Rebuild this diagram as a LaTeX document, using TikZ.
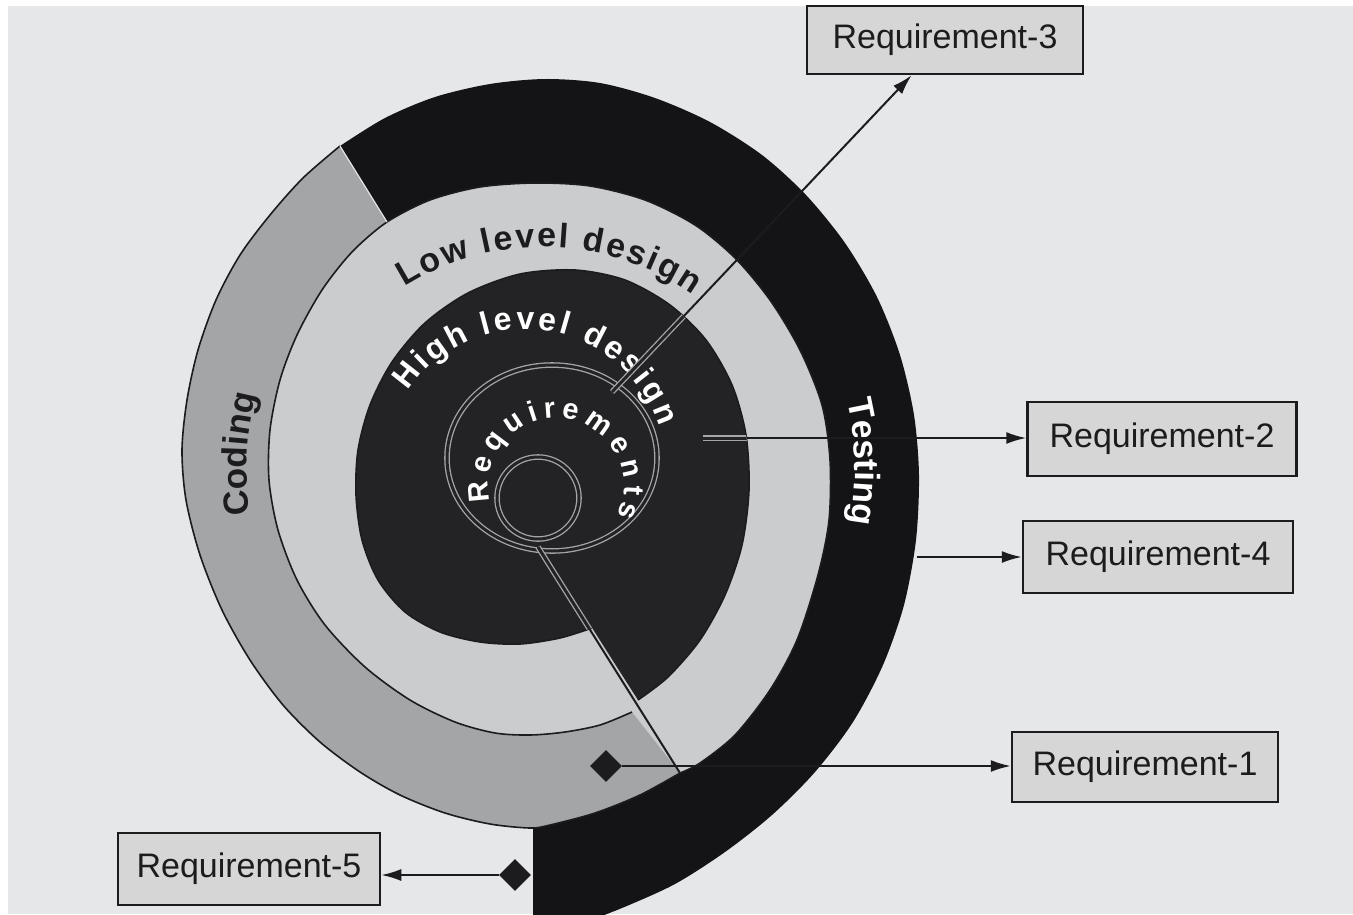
\documentclass[tikz,border=0pt]{standalone}
\usepackage{fontspec}
\setmainfont{Liberation Sans}
\usetikzlibrary{shapes.geometric,arrows.meta,decorations.text,calc}
\definecolor{bgc}{HTML}{E6E7E9}
\definecolor{lightc}{HTML}{CBCCCD}
\definecolor{grayc}{HTML}{A4A5A6}
\definecolor{darkc}{HTML}{232326}
\definecolor{blackc}{HTML}{141416}
\definecolor{boxc}{HTML}{D6D6D6}
\definecolor{inkc}{HTML}{1C1C1E}
\begin{document}
\begin{tikzpicture}[x=1pt,y=-1pt,
  edge/.style={draw=inkc,line width=1.6pt},
  road/.style={draw=gray!70,line width=1.3pt,double=darkc,double distance=3pt},
  conn/.style={draw=inkc,line width=2pt},
  arr/.style={conn,-{Latex[length=20pt,width=12pt]}},
  reqbox/.style={draw=inkc,line width=2.5pt,fill=boxc,inner sep=0pt,text=inkc,font=\fontsize{34}{36}\selectfont},
  dia/.style={diamond,fill=inkc,minimum size=32pt,inner sep=0pt},
]
\useasboundingbox (0,0) rectangle (1353,914);
\fill[white] (0,0) rectangle (1353,914);
\fill[bgc] (8,6) rectangle (1353,914);

% Low level design ring (light), one spiral turn
\fill[lightc] plot[smooth] coordinates {(632,712) (600,725) (565,732) (530,735) (495,733) (455,722) (410,700) (365,667) (325,625) (297,580) (278,530) (269,480) (270,430) (280,380) (297,335) (322,290) (352,252) (387,222) (430,200) (480,187) (535,183) (590,186) (645,200) (695,225) (735,258) (770,300) (800,350) (822,405) (830,460) (829,520) (818,575) (797,640) (770,690) (735,735) (700,763) (680,773)} -- cycle;

% Coding band (gray)
\fill[grayc] plot[smooth] coordinates {(632,712) (600,725) (565,732) (530,735) (495,733) (455,722) (410,700) (365,667) (325,625) (297,580) (278,530) (269,480) (270,430) (280,380) (297,335) (322,290) (352,252) (387,222)}
  -- plot[smooth] coordinates {(340,146) (303,178) (270,215) (240,255) (216,300) (198,350) (187,400) (182,450) (186,500) (200,555) (222,610) (250,660) (283,705) (320,742) (360,772) (400,795) (445,813) (490,824) (530,828) (550,825) (595,813) (640,795) (680,773)} -- cycle;

% Testing band (black)
\fill[blackc] plot[smooth] coordinates {(340,146) (385,118) (435,97) (490,84) (545,79) (600,83) (655,98) (710,122) (762,155) (806,195) (845,243) (877,297) (900,355) (914,415) (919,475) (916,540) (904,605) (883,665) (853,722) (815,772) (772,815) (725,852) (675,884) (622,908) (570,928)}
  -- (533,940) -- (533,828)
  -- plot[smooth] coordinates {(533,828) (550,825) (595,813) (640,795) (680,773)}
  -- plot[smooth] coordinates {(680,773) (700,763) (735,735) (770,690) (797,640) (818,575) (829,520) (830,460) (822,405) (800,350) (770,300) (735,258) (695,225) (645,200) (590,186) (535,183) (480,187) (430,200) (387,222)} -- cycle;

% High level design (dark)
\fill[darkc] plot[smooth] coordinates {(592,628) (560,638) (520,644) (480,642) (440,632) (405,612) (378,580) (362,540) (356,495) (358,450) (370,405) (392,362) (425,323) (468,293) (520,274) (575,270) (625,280) (670,305) (706,340) (732,385) (746,435) (749,490) (742,545) (725,595) (700,640) (668,677) (638,700)} -- cycle;

% boundary lines
\draw[edge] plot[smooth] coordinates {(632,712) (600,725) (565,732) (530,735) (495,733) (455,722) (410,700) (365,667) (325,625) (297,580) (278,530) (269,480) (270,430) (280,380) (297,335) (322,290) (352,252) (387,222) (430,200) (480,187) (535,183) (590,186) (645,200) (695,225) (735,258) (770,300) (800,350) (822,405) (830,460) (829,520) (818,575) (797,640) (770,690) (735,735) (700,763) (680,773)};
\draw[edge] plot[smooth] coordinates {(680,773) (640,795) (595,813) (550,825) (530,828) (490,824) (445,813) (400,795) (360,772) (320,742) (283,705) (250,660) (222,610) (200,555) (186,500) (182,450) (187,400) (198,350) (216,300) (240,255) (270,215) (303,178) (340,146)};
\draw[edge] plot[smooth] coordinates {(592,628) (560,638) (520,644) (480,642) (440,632) (405,612) (378,580) (362,540) (356,495) (358,450) (370,405) (392,362) (425,323) (468,293) (520,274) (575,270) (625,280) (670,305) (706,340) (732,385) (746,435) (749,490) (742,545) (725,595) (700,640) (668,677) (638,700)};
\draw[white!80!gray,line width=1.2pt] (340,146) -- (387,222);

% Requirements turn and inner start
\draw[road] (552,458) ellipse [x radius=105, y radius=93];
\draw[road] (538,498) circle [radius=41];

% ring labels
\path[decorate,decoration={text along path,text align={fit to path},
  text={|\fontsize{34}{34}\selectfont\bfseries\color{inkc}|Low level design}}]
  plot[domain=-122:-55,samples=80] ({543+262*cos(\x)},{509+262*sin(\x)});
\path[decorate,decoration={text along path,text align={fit to path},
  text={|\fontsize{32}{32}\selectfont\bfseries\color{white}|High level design}}]
  plot[domain=-146:-18,samples=80] ({525+141*cos(\x)},{470+141*sin(\x)});
\path[decorate,decoration={text along path,text align={fit to path},
  text={|\fontsize{29}{29}\selectfont\bfseries\color{white}|Requirements}}]
  plot[domain=-193:26,samples=100] ({556+68*cos(\x)},{486+68*sin(\x)});
\path[decorate,decoration={text along path,text align=center,
  text={|\fontsize{35}{35}\selectfont\bfseries\color{inkc}|Coding}}]
  plot[domain=-196:-158,samples=40] ({545+298*cos(\x)},{470+298*sin(\x)});
\path[decorate,decoration={text along path,text align=center,
  text={|\fontsize{35}{35}\selectfont\bfseries\color{white}|Testing}}]
  plot[domain=-19:16,samples=40] ({545+310*cos(\x)},{470+310*sin(\x)});

% requirement boxes
\node[reqbox,minimum width=276pt,minimum height=68pt] (r3) at (945,40) {Requirement-3};
\node[reqbox,minimum width=269pt,minimum height=74pt] (r2) at (1162,439) {Requirement-2};
\node[reqbox,minimum width=270pt,minimum height=72pt] (r4) at (1158,557) {Requirement-4};
\node[reqbox,minimum width=266pt,minimum height=70pt] (r1) at (1145,767) {Requirement-1};
\node[reqbox,minimum width=262pt,minimum height=72pt] (r5) at (249,869) {Requirement-5};

% connector anchors
\coordinate (r3src) at (612,392);
\coordinate (r1a) at (538,547);
\coordinate (r1b) at (680,773);
\coordinate (r2src) at (703,438);
\coordinate (r4src) at (917,557);
\node[dia] (d1) at (606,766) {};
\node[dia] (d5) at (515,875) {};

% connectors
\draw[conn] (r1a) -- (r1b);
\draw[arr] (r3src) -- ($(r3.south west)!0.38!(r3.south east)$);
\draw[arr] (r2src) -- (r2src -| r2.west);
\draw[arr] (r4src) -- (r4src -| r4.west);
\draw[arr] (d1) -- (d1 -| r1.west);
\draw[arr] (d5) -- (d5 -| r5.east);

% lines seen inside the dark disk
\begin{scope}
\clip plot[smooth] coordinates {(592,628) (560,638) (520,644) (480,642) (440,632) (405,612) (378,580) (362,540) (356,495) (358,450) (370,405) (392,362) (425,323) (468,293) (520,274) (575,270) (625,280) (670,305) (706,340) (732,385) (746,435) (749,490) (742,545) (725,595) (700,640) (668,677) (638,700)} -- cycle;
\draw[road] (r1a) -- (r1b);
\draw[road] (r3src) -- ($(r3.south west)!0.38!(r3.south east)$);
\draw[road] (r2src) -- (r2src -| r2.west);
\end{scope}
\end{tikzpicture}
\end{document}
